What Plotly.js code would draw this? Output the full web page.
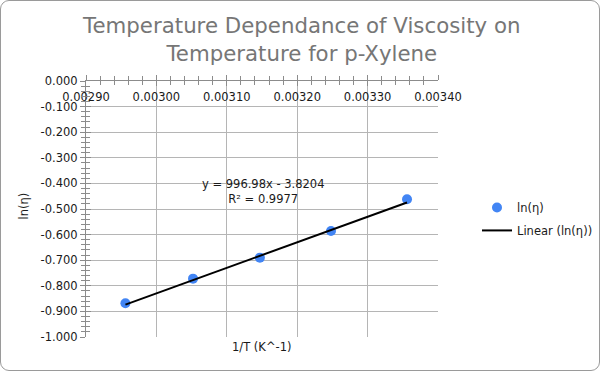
<!DOCTYPE html>
<html>
<head>
<meta charset="utf-8">
<script src="https://cdn.plot.ly/plotly-3.0.1.min.js"></script>
<style>
html,body{margin:0;padding:0;background:#fff;}
#wrap{position:relative;width:600px;height:371px;}
#chart{width:600px;height:371px;}
#frame{position:absolute;left:0;top:0;width:598px;height:369px;border:1px solid #9a9a9a;border-radius:9px;pointer-events:none;}
</style>
</head>
<body>
<div id="wrap"><div id="chart"></div><div id="frame"></div></div>
<script>
// Data
const invT = [0.002956, 0.003052, 0.003147, 0.003248, 0.003356];
const lnEta = [-0.868, -0.772, -0.690, -0.586, -0.462];
const fitSlope = 996.98;
const fitIntercept = -3.8204;
const fitR2 = 0.9977;
const xTicks = [0.0029, 0.0030, 0.0031, 0.0032, 0.0033, 0.0034];
const xTickText = ['0.00290', '0.00300', '0.00310', '0.00320', '0.00330', '0.00340'];
const yTicks = [0, -0.1, -0.2, -0.3, -0.4, -0.5, -0.6, -0.7, -0.8, -0.9, -1.0];
const yTickText = ['0.000', '-0.100', '-0.200', '-0.300', '-0.400', '-0.500', '-0.600', '-0.700', '-0.800', '-0.900', '-1.000'];

const xRange = [0.0029, 0.0034];
const yRange = [-1.0, 0.0];
const xMin = Math.min(...invT), xMax = Math.max(...invT);
const trendX = [xMin, xMax];
const trendY = trendX.map(v => fitSlope * v + fitIntercept);

const FONT = 'DejaVu Sans, sans-serif';
const AX = '#8c8c8c';
const GRID = '#b5b5b5';
const TXT = '#1a1a1a';

const traces = [
  {
    x: invT, y: lnEta, type: 'scatter', mode: 'markers', name: 'ln(η)',
    legendgroup: 'a',
    marker: {color: '#4285f4', size: 10}
  },
  {
    x: trendX, y: trendY, type: 'scatter', mode: 'lines', name: 'Linear (ln(η))',
    legendgroup: 'b',
    line: {color: '#000000', width: 2}
  },
  // invisible helper trace so the overlay axes (crossing tick marks) are drawn
  {
    x: [xMin], y: [lnEta[0]], xaxis: 'x2', yaxis: 'y2', type: 'scatter', mode: 'markers',
    marker: {opacity: 0}, showlegend: false, hoverinfo: 'skip'
  }
];

const layout = {
  width: 600, height: 371,
  margin: {l: 86, r: 162, t: 81, b: 34, pad: 0},
  paper_bgcolor: '#ffffff', plot_bgcolor: '#ffffff',
  font: {family: FONT, size: 11.5, color: TXT},
  title: {
    text: 'Temperature Dependance of Viscosity on<br>Temperature for p-Xylene',
    font: {family: FONT, size: 21.3, color: '#767676'},
    x: 0.503, xref: 'container', xanchor: 'center',
    y: 0.91, yref: 'container', yanchor: 'middle'
  },
  xaxis: {
    range: xRange, side: 'top',
    tickvals: xTicks, ticktext: xTickText,
    ticklabelposition: 'inside', ticklabeloverflow: 'allow', ticklabelstandoff: 11,
    showgrid: true, gridcolor: GRID, gridwidth: 1,
    zeroline: false, showline: true, linecolor: AX, linewidth: 1,
    ticks: 'outside', ticklen: 5, tickcolor: AX,
    minor: {dtick: 0.00002, ticks: 'outside', ticklen: 4, tickcolor: AX, showgrid: false},
    tickfont: {family: FONT, size: 11.5, color: TXT},
    automargin: false, fixedrange: true
  },
  yaxis: {
    range: yRange,
    tickvals: yTicks, ticktext: yTickText,
    showgrid: true, gridcolor: GRID, gridwidth: 1,
    zeroline: false, showline: true, linecolor: AX, linewidth: 1,
    ticks: 'outside', ticklen: 5, tickcolor: AX,
    minor: {dtick: 0.02, ticks: 'outside', ticklen: 4, tickcolor: AX, showgrid: false},
    tickfont: {family: FONT, size: 11.5, color: TXT},
    automargin: false, fixedrange: true
  },
  xaxis2: {
    overlaying: 'x', side: 'top', anchor: 'y2',
    range: xRange, tickvals: xTicks, showticklabels: false,
    showgrid: false, zeroline: false, showline: false,
    ticks: 'inside', ticklen: 5, tickcolor: AX,
    minor: {dtick: 0.00002, ticks: 'inside', ticklen: 4, tickcolor: AX, showgrid: false},
    automargin: false
  },
  yaxis2: {
    overlaying: 'y', anchor: 'x2', side: 'left',
    range: yRange, tickvals: yTicks, showticklabels: false,
    showgrid: false, zeroline: false, showline: false,
    ticks: 'inside', ticklen: 5, tickcolor: AX,
    minor: {dtick: 0.02, ticks: 'inside', ticklen: 4, tickcolor: AX, showgrid: false},
    automargin: false
  },
  showlegend: true,
  legend: {
    x: 0.795, y: 0.48, xref: 'container', yref: 'container',
    xanchor: 'left', yanchor: 'top',
    font: {family: FONT, size: 11.5, color: TXT},
    bgcolor: 'rgba(0,0,0,0)', tracegroupgap: 4
  },
  annotations: [
    {
      text: 'y = ' + fitSlope.toFixed(2) + 'x - ' + Math.abs(fitIntercept).toFixed(4) + '<br>R² = ' + fitR2.toFixed(4),
      x: 0.0031528, y: -0.4297, xref: 'x', yref: 'y',
      xanchor: 'center', yanchor: 'middle', align: 'center', showarrow: false,
      font: {family: FONT, size: 11.5, color: TXT}
    },
    {
      text: '1/T (K^-1)', x: 0.5, y: -0.04, xref: 'paper', yref: 'paper',
      xanchor: 'center', yanchor: 'middle', showarrow: false,
      font: {family: FONT, size: 11.5, color: TXT}
    },
    {
      text: 'ln(η)', x: -0.176, y: 0.51, xref: 'paper', yref: 'paper', textangle: -90,
      xanchor: 'center', yanchor: 'middle', showarrow: false,
      font: {family: FONT, size: 11.5, color: TXT}
    }
  ]
};

Plotly.newPlot('chart', traces, layout, {displayModeBar: false, staticPlot: true});
</script>
</body>
</html>
